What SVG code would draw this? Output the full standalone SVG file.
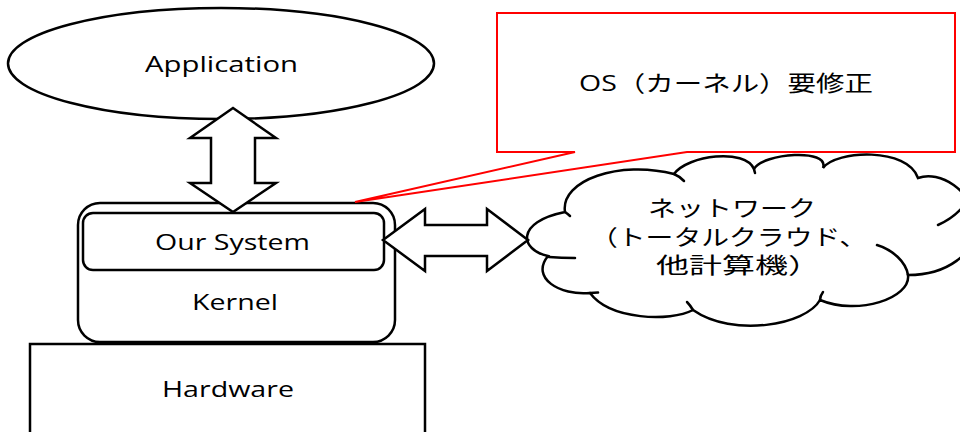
<svg xmlns="http://www.w3.org/2000/svg" width="960" height="432" viewBox="0 0 960 432">
  <style>
    .shape { fill: #ffffff; stroke: #000000; stroke-width: 2.5; stroke-linejoin: miter; }
    .stub { fill: none; stroke: #000000; stroke-width: 2.5; stroke-linecap: round; }
    .callout { fill: #ffffff; stroke: #ff0000; stroke-width: 2; stroke-linejoin: miter; }
    .lat { font-family: "Open Sans", "Noto Sans CJK JP", sans-serif; font-size: 21px; fill: #000000; }
    .jp { font-family: "Open Sans", "Noto Sans CJK JP", sans-serif; font-size: 22px; fill: #000000; }
  </style>

  <!-- application layer -->
  <g id="application">
    <ellipse class="shape" cx="221" cy="63.5" rx="213" ry="55.5"/>
    <text class="lat" x="145" y="72" textLength="153" lengthAdjust="spacingAndGlyphs">Application</text>
  </g>

  <!-- kernel with embedded system -->
  <g id="kernel">
    <rect class="shape" x="78" y="203" width="317" height="139" rx="22" ry="22"/>
    <text class="lat" x="192" y="310" textLength="86" lengthAdjust="spacingAndGlyphs">Kernel</text>
  </g>
  <g id="our-system">
    <rect class="shape" x="83" y="213" width="301" height="57" rx="10" ry="10"/>
    <text class="lat" x="155" y="250" textLength="155" lengthAdjust="spacingAndGlyphs">Our System</text>
  </g>

  <!-- hardware -->
  <g id="hardware">
    <rect class="shape" x="30" y="344" width="395" height="100"/>
    <text class="lat" x="162" y="397" textLength="132" lengthAdjust="spacingAndGlyphs">Hardware</text>
  </g>

  <!-- network cloud -->
  <g id="network">
    <path class="shape" d="M548,256
      C520,250 515,222 565,212
      C560,180 620,160 674,174
      C688,155 745,148 754,169
      C763,153 830,148 823,168
      C836,150 908,147 918,178
      C940,170 972,190 975,222
      C978,255 945,275 908,275
      C911,298 858,316 820,300
      C806,325 733,338 693,310
      C670,322 610,320 590,293
      C560,296 530,278 548,256 Z"/>
    <path class="stub" d="M549,257 Q561,258 575,258"/>
    <path class="stub" d="M590,293 L598,292.5"/>
    <path class="stub" d="M693,310 Q690,305 687,302"/>
    <path class="stub" d="M820,300 Q820,296 823,292"/>
    <path class="stub" d="M908,275 C906,262 893,250 877,245"/>
    <path class="stub" d="M938,225 Q952,219 962,208"/>
    <path class="stub" d="M565,212 Q568,214 570,216"/>
    <path class="stub" d="M674,174 Q679,176 684,181"/>
    <path class="stub" d="M754,169 L755,173"/>
    <text class="jp" x="648" y="216" textLength="168" lengthAdjust="spacingAndGlyphs">ネットワーク</text>
    <text class="jp" x="590" y="245" textLength="277" lengthAdjust="spacingAndGlyphs">（トータルクラウド、</text>
    <text class="jp" x="656" y="273" textLength="165" lengthAdjust="spacingAndGlyphs">他計算機）</text>
  </g>

  <!-- note pointing at the kernel -->
  <g id="note">
    <path class="callout" d="M497,13 L955,13 L955,152 L687,152 L355,202 L575,152 L497,152 Z"/>
    <text class="jp" x="579" y="91" textLength="294" lengthAdjust="spacingAndGlyphs">OS（カーネル）要修正</text>
  </g>

  <!-- two-way block arrows -->
  <g id="connectors">
    <polygon class="shape" points="233,108 276,138 255,138 255,183 276,183 233,212 190,183 211,183 211,138 190,138"/>
    <polygon class="shape" points="383,240 425,209 425,225 487,225 487,209 528,240 487,271 487,256 425,256 425,271"/>
  </g>
</svg>
